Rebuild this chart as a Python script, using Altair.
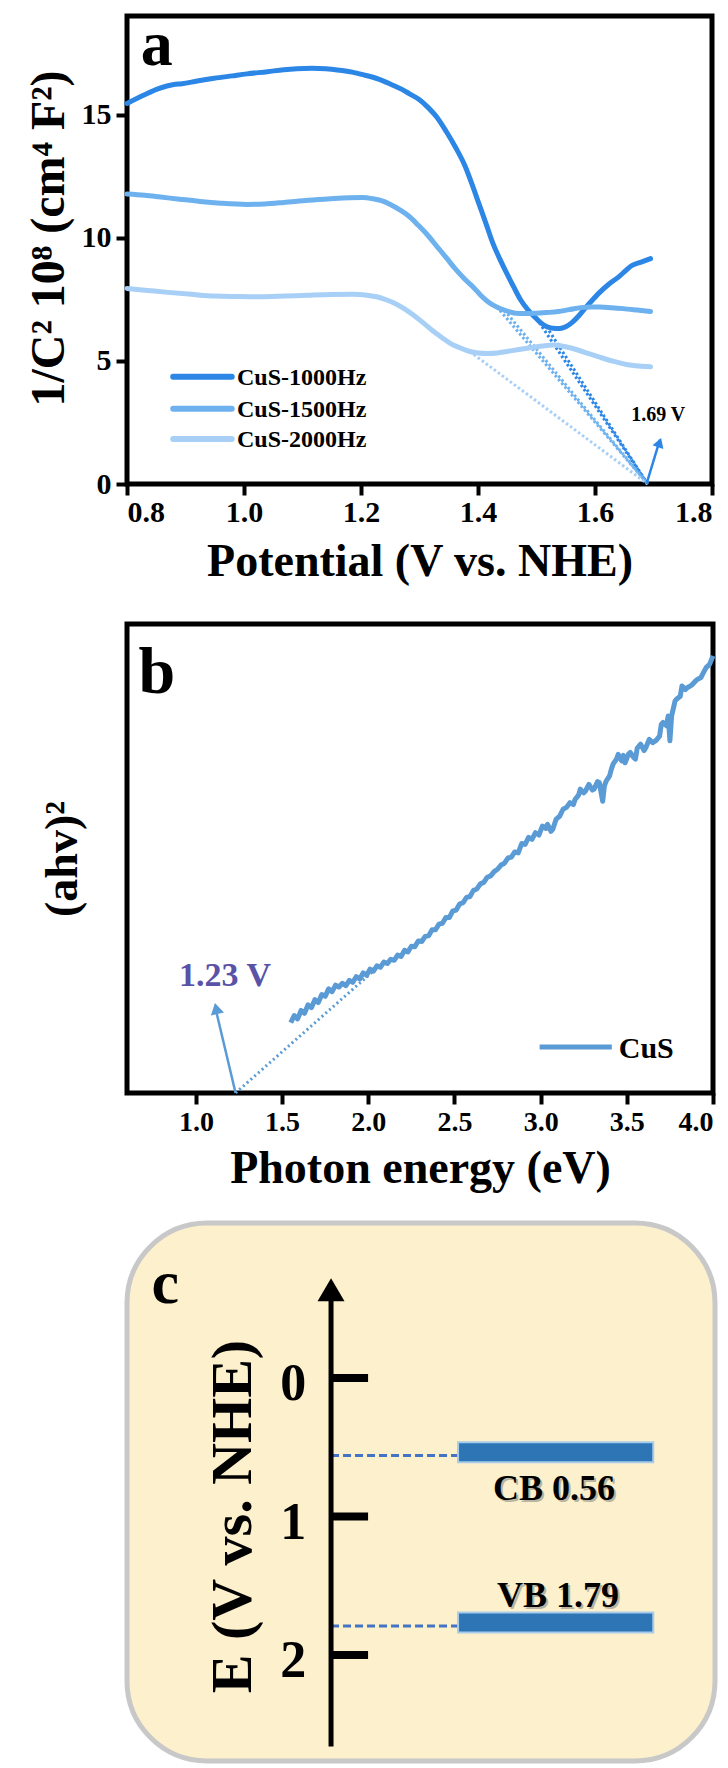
import altair as alt
import pandas as pd

FONT = "Liberation Serif"

# ---------------- Panel a : Mott-Schottky ----------------
SERIES_A = ["CuS-1000Hz", "CuS-1500Hz", "CuS-2000Hz"]
COLORS_A = ["#2B86E6", "#6DB1EE", "#A8D0F6"]

V_1000 = [0.80, 0.83, 0.854, 0.88, 0.894, 0.92, 0.949, 0.98, 1.005, 1.04, 1.068, 1.09, 1.116, 1.14, 1.163,
          1.185, 1.203, 1.23, 1.251, 1.27, 1.283, 1.30, 1.314, 1.33, 1.346, 1.362, 1.378, 1.39, 1.402, 1.414,
          1.425, 1.437, 1.449, 1.461, 1.473, 1.485, 1.497, 1.507, 1.517, 1.528, 1.540, 1.550, 1.560, 1.572,
          1.584, 1.596, 1.608, 1.624, 1.640, 1.652, 1.663, 1.680, 1.695]
C_1000 = [15.45, 15.80, 16.05, 16.22, 16.25, 16.36, 16.47, 16.57, 16.65, 16.74, 16.82, 16.86, 16.88, 16.86, 16.80,
          16.72, 16.62, 16.44, 16.23, 16.02, 15.84, 15.60, 15.30, 14.88, 14.30, 13.65, 12.90, 12.15, 11.35, 10.55,
          9.80, 9.15, 8.56, 8.00, 7.47, 7.08, 6.78, 6.55, 6.39, 6.32, 6.31, 6.38, 6.54, 6.82,
          7.16, 7.48, 7.78, 8.12, 8.40, 8.65, 8.87, 9.02, 9.15]

V_1500 = [0.80, 0.83, 0.854, 0.89, 0.925, 0.96, 1.005, 1.035, 1.068, 1.11, 1.148, 1.18, 1.203, 1.22, 1.235,
          1.25, 1.267, 1.283, 1.298, 1.314, 1.33, 1.346, 1.362, 1.378, 1.394, 1.405, 1.417, 1.429, 1.441, 1.453,
          1.465, 1.48, 1.497, 1.517, 1.537, 1.556, 1.576, 1.592, 1.608, 1.628, 1.648, 1.672, 1.695]
C_1500 = [11.77, 11.72, 11.66, 11.56, 11.47, 11.40, 11.35, 11.37, 11.43, 11.52, 11.58, 11.62, 11.63, 11.58, 11.50,
          11.35, 11.12, 10.85, 10.50, 10.10, 9.64, 9.18, 8.71, 8.30, 7.94, 7.65, 7.40, 7.22, 7.09, 7.00,
          6.93, 6.92, 6.93, 6.96, 7.00, 7.08, 7.16, 7.19, 7.19, 7.16, 7.12, 7.06, 7.00]

V_2000 = [0.80, 0.835, 0.87, 0.91, 0.949, 0.99, 1.029, 1.07, 1.108, 1.15, 1.187, 1.21, 1.227, 1.243, 1.259,
          1.275, 1.29, 1.306, 1.322, 1.338, 1.354, 1.37, 1.386, 1.40, 1.417, 1.433, 1.449, 1.47, 1.489, 1.51,
          1.529, 1.548, 1.568, 1.588, 1.608, 1.632, 1.656, 1.675, 1.695]
C_2000 = [7.94, 7.86, 7.78, 7.70, 7.63, 7.61, 7.60, 7.63, 7.66, 7.69, 7.70, 7.66, 7.60, 7.48, 7.32,
          7.10, 6.85, 6.55, 6.23, 5.95, 5.69, 5.52, 5.38, 5.32, 5.30, 5.32, 5.38, 5.46, 5.53, 5.60,
          5.64, 5.58, 5.46, 5.30, 5.15, 4.98, 4.84, 4.79, 4.76]

# tangent (extrapolation) lines: start points on curves, all meeting the axis at the flat-band potential
TAN_A_SERIES = ["CuS-1000Hz", "CuS-1000Hz", "CuS-1500Hz", "CuS-1500Hz", "CuS-2000Hz"]
TAN_A_V0 = [1.500, 1.517, 1.432, 1.445, 1.386]
TAN_A_C0 = [6.72, 6.39, 7.20, 7.06, 5.38]
EFB_A = 1.69
EFB_A_LABEL = "1.69 V"
TICKS_A_X = [0.8, 1.0, 1.2, 1.4, 1.6, 1.8]
TICKS_A_Y = [0, 5, 10, 15]

# ---------------- Panel b : Tauc plot ----------------
TAUC_B = [
    (1.55, 15.0), (1.57, 16.5), (1.59, 15.8), (1.61, 17.6), (1.63, 17.0), (1.65, 18.8), (1.67, 18.2),
    (1.69, 19.9), (1.71, 19.3), (1.73, 21.0), (1.75, 20.6), (1.77, 22.2), (1.79, 21.6), (1.81, 23.0),
    (1.83, 22.6), (1.85, 23.4), (1.87, 22.9), (1.89, 24.0), (1.91, 23.6), (1.93, 24.8), (1.95, 24.3),
    (1.97, 25.6), (1.99, 25.1), (2.01, 26.4), (2.03, 26.0), (2.05, 27.1), (2.07, 26.8), (2.09, 27.9),
    (2.11, 27.6), (2.13, 28.5), (2.15, 28.3), (2.17, 29.4), (2.19, 29.1), (2.21, 30.4), (2.23, 30.1),
    (2.25, 31.3), (2.27, 31.2), (2.29, 32.4), (2.31, 32.3), (2.33, 33.4), (2.35, 33.5), (2.37, 34.8),
    (2.39, 34.8), (2.41, 36.0), (2.43, 36.2), (2.45, 37.4), (2.47, 37.4), (2.49, 38.8), (2.51, 39.0),
    (2.53, 40.3), (2.55, 40.6), (2.57, 41.7), (2.59, 41.9), (2.61, 43.2), (2.63, 43.5), (2.65, 44.6),
    (2.67, 44.9), (2.69, 46.0), (2.71, 46.3), (2.73, 47.2), (2.75, 47.7), (2.77, 48.6), (2.79, 49.0),
    (2.81, 50.1), (2.83, 50.3), (2.85, 51.4), (2.87, 51.2), (2.89, 53.2), (2.91, 53.0), (2.93, 54.5),
    (2.95, 54.1), (2.97, 55.5), (2.99, 55.0), (3.01, 56.9), (3.03, 56.4), (3.04, 57.3), (3.06, 55.8),
    (3.07, 56.2), (3.09, 58.4), (3.11, 59.0), (3.13, 60.5), (3.15, 60.9), (3.17, 61.9), (3.19, 61.5),
    (3.20, 62.6), (3.22, 63.5), (3.23, 64.8), (3.25, 64.0), (3.26, 64.4), (3.28, 65.8), (3.30, 64.6),
    (3.31, 64.8), (3.33, 66.4), (3.34, 66.2), (3.36, 62.2), (3.37, 65.5), (3.38, 66.5), (3.40, 67.6),
    (3.41, 69.0), (3.42, 70.1), (3.44, 71.2), (3.45, 72.2), (3.47, 70.8), (3.48, 72.0), (3.49, 70.4),
    (3.51, 72.3), (3.52, 72.6), (3.54, 71.5), (3.55, 71.2), (3.56, 73.5), (3.58, 74.4), (3.60, 73.0),
    (3.61, 73.6), (3.63, 75.4), (3.65, 74.7), (3.67, 75.2), (3.69, 76.1), (3.70, 78.6), (3.71, 79.0),
    (3.73, 78.3), (3.74, 80.4), (3.75, 75.1), (3.76, 80.4), (3.78, 83.6), (3.79, 84.0), (3.81, 84.6),
    (3.82, 86.8), (3.84, 86.0), (3.85, 86.4), (3.87, 86.8), (3.88, 87.1), (3.90, 87.9), (3.91, 88.2),
    (3.93, 88.6), (3.94, 89.3), (3.96, 90.7), (3.98, 91.4), (4.00, 93.2),
]
TAN_B_E = [1.23, 2.10]
TAN_B_A = [0.0, 28.3]
EG_B_LABEL = "1.23 V"
TICKS_B_X = [1.0, 1.5, 2.0, 2.5, 3.0, 3.5, 4.0]

# ---------------- Panel c : band positions ----------------
BAND_NAMES = ["CB", "VB"]
BAND_LEVELS = [0.56, 1.79]
TICKS_C = [0, 1, 2]

# ---------------- layout / style constants ----------------
W_A, H_A = 585, 468
W_B, H_B = 586, 469
W_C, H_C = 588, 538
BLUE_B = "#5B9BD5"

axis_common = dict(labelFont=FONT, labelFontWeight="bold", labelColor="black",
                   titleFont=FONT, titleFontWeight="bold", titleColor="black",
                   tickColor="black", tickWidth=4, tickSize=11, domain=False, grid=False)

# ===== panel a =====
df_a = pd.concat([
    pd.DataFrame({"V": V_1000, "C": C_1000, "series": SERIES_A[0]}),
    pd.DataFrame({"V": V_1500, "C": C_1500, "series": SERIES_A[1]}),
    pd.DataFrame({"V": V_2000, "C": C_2000, "series": SERIES_A[2]}),
])
col_a = dict(zip(SERIES_A, COLORS_A))
rows = []
for i, (s, v0, c0) in enumerate(zip(TAN_A_SERIES, TAN_A_V0, TAN_A_C0)):
    rows.append({"id": i, "V": v0, "C": c0, "col": col_a[s]})
    rows.append({"id": i, "V": EFB_A, "C": 0.0, "col": col_a[s]})
df_tan_a = pd.DataFrame(rows)

xa = alt.X("V:Q", scale=alt.Scale(domain=[0.8, 1.8], nice=False, zero=False),
           axis=alt.Axis(values=TICKS_A_X, format=".1f", title="Potential (V vs. NHE)",
                         labelFontSize=30, titleFontSize=46, labelPadding=2, titlePadding=12, **axis_common))
ya = alt.Y("C:Q", scale=alt.Scale(domain=[0, 19], nice=False),
           axis=alt.Axis(values=TICKS_A_Y, title="1/C² 10⁸ (cm⁴ F²)", titleY=222,
                         labelFontSize=30, titleFontSize=48, labelPadding=5, titlePadding=8, **axis_common))

tan_a = alt.Chart(df_tan_a).mark_line(strokeDash=[2.5, 2.5], strokeWidth=3).encode(
    x=xa, y=ya, detail="id:N", color=alt.Color("col:N", scale=None))
curves_a = alt.Chart(df_a).mark_line(strokeWidth=5, interpolate="monotone", strokeCap="round").encode(
    x=xa, y=ya, color=alt.Color("series:N", scale=alt.Scale(domain=SERIES_A, range=COLORS_A), legend=None))

# legend (drawn as marks)
LEG_A_V0, LEG_A_V1, LEG_A_VT = 0.879, 0.979, 0.988
LEG_A_ROWS = [4.35, 3.05, 1.83]
df_leg_a = pd.DataFrame({"V": [LEG_A_V0] * 3, "V2": [LEG_A_V1] * 3, "C": LEG_A_ROWS,
                         "series": SERIES_A, "col": COLORS_A})
df_leg_a_txt = pd.DataFrame({"V": [LEG_A_VT] * 3, "C": LEG_A_ROWS, "series": SERIES_A})
leg_a_lines = alt.Chart(df_leg_a).mark_rule(strokeWidth=6, strokeCap="round").encode(
    x=xa, x2="V2:Q", y=ya, color=alt.Color("col:N", scale=None))
leg_a_text = alt.Chart(df_leg_a_txt).mark_text(font=FONT, fontWeight="bold", fontSize=24, align="left",
                                               baseline="alphabetic", dy=8, color="black").encode(
    x=xa, y=ya, text="series:N")

# arrow + label at flat band potential
df_arrow_a = pd.DataFrame({"V": [1.688], "C": [0.0], "V2": [1.711], "C2": [1.80]})
arrow_a = alt.Chart(df_arrow_a).mark_rule(strokeWidth=2.5, color=COLORS_A[0]).encode(
    x=xa, y=ya, x2="V2:Q", y2="C2:Q")
ARROW_PATH = "M0,0L1,1.7L-1,1.7Z"
df_head_a = pd.DataFrame({"V": [1.713], "C": [1.87]})
head_a = alt.Chart(df_head_a).mark_point(shape=ARROW_PATH, filled=True, size=130, angle=19,
                                         color=COLORS_A[0], opacity=1).encode(x=xa, y=ya)
df_lab_a = pd.DataFrame({"V": [1.708], "C": [2.55], "t": [EFB_A_LABEL]})
lab_a = alt.Chart(df_lab_a).mark_text(font=FONT, fontWeight="bold", fontSize=20, baseline="alphabetic",
                                      color="black").encode(x=xa, y=ya, text="t:N")
df_letter_a = pd.DataFrame({"V": [0.851], "C": [17.03], "t": ["a"]})
letter_a = alt.Chart(df_letter_a).mark_text(font=FONT, fontWeight="bold", fontSize=64, baseline="alphabetic",
                                            color="black").encode(x=xa, y=ya, text="t:N")

panel_a = alt.layer(tan_a, curves_a, leg_a_lines, leg_a_text, arrow_a, head_a, lab_a, letter_a).properties(
    width=W_A, height=H_A)

# ===== panel b =====
df_b = pd.DataFrame(TAUC_B, columns=["E", "A"])
df_tan_b = pd.DataFrame({"E": TAN_B_E, "A": TAN_B_A})
xb = alt.X("E:Q", scale=alt.Scale(domain=[0.6, 4.0], nice=False, zero=False),
           axis=alt.Axis(values=TICKS_B_X, format=".1f", title="Photon energy (eV)",
                         labelFontSize=28, titleFontSize=46, labelPadding=4, titlePadding=10, **axis_common))
yb = alt.Y("A:Q", scale=alt.Scale(domain=[0, 100], nice=False),
           axis=alt.Axis(title="(ahv)²", labels=False, ticks=False, titleFontSize=46, titlePadding=41,
                         **{k: v for k, v in axis_common.items() if k not in ("tickColor", "tickWidth", "tickSize")}))

tan_b = alt.Chart(df_tan_b).mark_line(strokeDash=[2, 3], strokeWidth=3, color=BLUE_B).encode(x=xb, y=yb)
curve_b = alt.Chart(df_b).mark_line(strokeWidth=5, color=BLUE_B, strokeJoin="round").encode(x=xb, y=yb)
df_arrow_b = pd.DataFrame({"E": [1.23], "A": [0.0], "E2": [1.117], "A2": [17.5]})
arrow_b = alt.Chart(df_arrow_b).mark_rule(strokeWidth=2.5, color=BLUE_B).encode(
    x=xb, y=yb, x2="E2:Q", y2="A2:Q")
df_head_b = pd.DataFrame({"E": [1.11], "A": [19.2]})
head_b = alt.Chart(df_head_b).mark_point(shape=ARROW_PATH, filled=True, size=180, angle=347,
                                         color=BLUE_B, opacity=1).encode(x=xb, y=yb)
df_lab_b = pd.DataFrame({"E": [1.169], "A": [22.9], "t": [EG_B_LABEL]})
lab_b = alt.Chart(df_lab_b).mark_text(font=FONT, fontWeight="bold", fontSize=34, baseline="alphabetic",
                                      color="#5A52A6").encode(x=xb, y=yb, text="t:N")
df_leg_b = pd.DataFrame({"E": [2.994], "E2": [3.413], "A": [9.8]})
df_leg_b_txt = pd.DataFrame({"E": [3.453], "A": [9.8], "t": ["CuS"]})
leg_b_line = alt.Chart(df_leg_b).mark_rule(strokeWidth=5, color=BLUE_B).encode(x=xb, x2="E2:Q", y=yb)
leg_b_text = alt.Chart(df_leg_b_txt).mark_text(font=FONT, fontWeight="bold", fontSize=30, align="left",
                                               baseline="alphabetic", dy=11, color="black").encode(
    x=xb, y=yb, text="t:N")
df_letter_b = pd.DataFrame({"E": [0.773], "A": [85.3], "t": ["b"]})
letter_b = alt.Chart(df_letter_b).mark_text(font=FONT, fontWeight="bold", fontSize=66, baseline="alphabetic",
                                            color="black").encode(x=xb, y=yb, text="t:N")

panel_b = alt.layer(tan_b, curve_b, arrow_b, head_b, lab_b, leg_b_line, leg_b_text, letter_b).properties(
    width=W_B, height=H_B)

# ===== panel c =====
xs_c = alt.Scale(domain=[0, 1], nice=False, zero=False)
ys_c = alt.Scale(domain=[-1.119, 2.765], nice=False, zero=False, reverse=True)
xc = alt.X("px:Q", scale=xs_c, axis=None)
yc = alt.Y("E:Q", scale=ys_c, axis=None)

AXIS_PX, TICK_PX1, LABEL_PX = 0.347, 0.41, 0.305
BAR_PX0, BAR_PX1 = 0.563, 0.895
BAR_LO, BAR_HI = 0.097, 0.048
AXIS_BOTTOM, ARROW_TIP = 2.66, -0.72

df_axis_c = pd.DataFrame({"px": [AXIS_PX], "E": [AXIS_BOTTOM], "E2": [ARROW_TIP + 0.12]})
axis_c = alt.Chart(df_axis_c).mark_rule(strokeWidth=5, color="black").encode(x=xc, y=yc, y2="E2:Q")
df_head_c = pd.DataFrame({"px": [AXIS_PX], "E": [ARROW_TIP]})
head_c = alt.Chart(df_head_c).mark_point(shape=ARROW_PATH, filled=True, size=729, color="black",
                                         opacity=1).encode(x=xc, y=yc)
df_ticks_c = pd.DataFrame({"px": [AXIS_PX] * 3, "px2": [TICK_PX1] * 3, "E": TICKS_C})
df_ticklab_c = pd.DataFrame({"px": [LABEL_PX] * 3, "E": TICKS_C, "t": [str(t) for t in TICKS_C]})
ticks_c = alt.Chart(df_ticks_c).mark_rule(strokeWidth=8, color="black").encode(x=xc, x2="px2:Q", y=yc)
ticklab_c = alt.Chart(df_ticklab_c).mark_text(font=FONT, fontWeight="bold", fontSize=52, align="right",
                                              baseline="alphabetic", dy=22, color="black").encode(
    x=xc, y=yc, text="t:N")

df_bands = pd.DataFrame({"name": BAND_NAMES, "E": BAND_LEVELS})
df_bands["px"] = AXIS_PX
df_bands["px_b0"] = BAR_PX0

df_bars = pd.DataFrame({"px": [BAR_PX0] * 2, "px2": [BAR_PX1] * 2,
                        "E": [v - BAR_LO for v in BAND_LEVELS], "E2": [v + BAR_HI for v in BAND_LEVELS]})
LABEL_SHIFT = {"CB": 0.321, "VB": -0.137}
LABEL_PXC = {"CB": 0.726, "VB": 0.733}
df_bandlab = pd.DataFrame({
    "px": [LABEL_PXC[n] for n in BAND_NAMES],
    "E": [v + LABEL_SHIFT[n] for n, v in zip(BAND_NAMES, BAND_LEVELS)],
    "label": [f"{n} {v:.2f}" for n, v in zip(BAND_NAMES, BAND_LEVELS)],
})

dash_c = alt.Chart(df_bands).mark_rule(strokeDash=[8, 4], strokeWidth=3, color="#4472C4").encode(
    x=xc, x2="px_b0:Q", y=yc)
bars_c = alt.Chart(df_bars).mark_rect(color="#2E75B6", stroke="#A7CBEA", strokeWidth=2).encode(
    x=xc, x2="px2:Q", y=yc, y2="E2:Q")
shadow_c = alt.Chart(df_bandlab).mark_text(font=FONT, fontWeight="bold", fontSize=36, baseline="alphabetic",
                                           dx=2, dy=2, color="#777777", opacity=0.5).encode(
    x=xc, y=yc, text="label:N")
bandlab_c = alt.Chart(df_bandlab).mark_text(font=FONT, fontWeight="bold", fontSize=36, baseline="alphabetic",
                                            color="black").encode(x=xc, y=yc, text="label:N")

df_letter_c = pd.DataFrame({"px": [0.065], "E": [-0.54], "t": ["c"]})
letter_c = alt.Chart(df_letter_c).mark_text(font=FONT, fontWeight="bold", fontSize=62, baseline="alphabetic",
                                            color="black").encode(x=xc, y=yc, text="t:N")
df_title_c = pd.DataFrame({"px": [0.182], "E": [1.0], "t": ["E (V vs. NHE)"]})
title_c = alt.Chart(df_title_c).mark_text(font=FONT, fontWeight="bold", fontSize=58, angle=270,
                                          baseline="middle", align="center", color="black").encode(
    x=xc, y=yc, text="t:N")

panel_c = alt.layer(dash_c, bars_c, axis_c, head_c, ticks_c, ticklab_c, shadow_c, bandlab_c,
                    letter_c, title_c).properties(
    width=W_C, height=H_C,
    view=alt.ViewBackground(fill="#FDF0CC", stroke="#C8C8C8", strokeWidth=5, cornerRadius=80))

top = alt.vconcat(panel_a, panel_b, spacing=34)
chart = alt.vconcat(top, panel_c, spacing=26).properties(
    padding={"left": 22, "top": 11, "right": 0, "bottom": 0},
    background="white",
).configure_view(stroke="black", strokeWidth=5)

chart.save("out.html", embed_options={"renderer": "svg", "actions": False})
